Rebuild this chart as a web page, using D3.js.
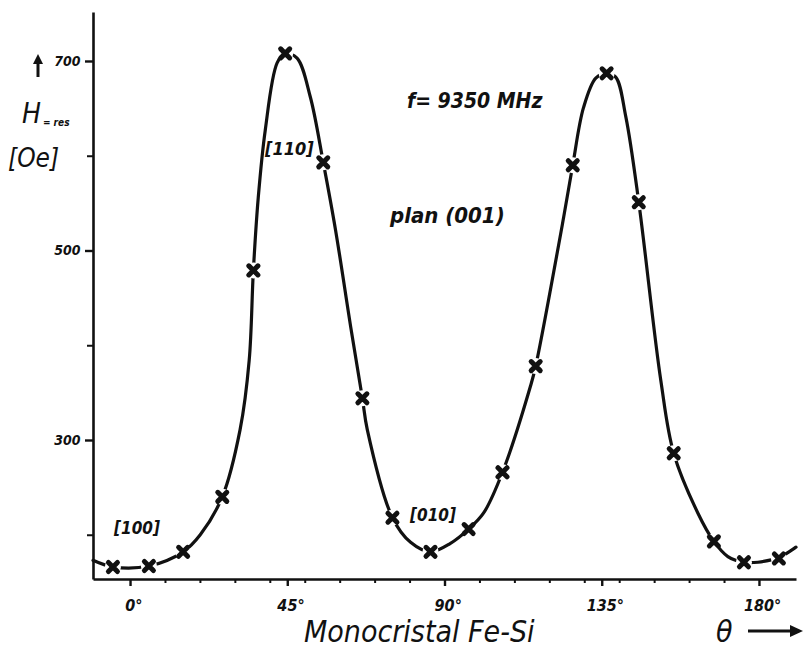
<!DOCTYPE html>
<html>
<head>
<meta charset="utf-8">
<script src="https://cdn.jsdelivr.net/npm/d3@7"></script>
<style>
  html, body { margin: 0; padding: 0; background: #fff; }
  svg { display: block; }
  text { font-family: "DejaVu Sans Condensed", "DejaVu Sans", sans-serif; fill: #111; }
</style>
</head>
<body>
<svg id="chart" width="803" height="652"></svg>
<script>
// ---- data ----
// measured points (θ in degrees, H_res in Oe)
const markerTheta = [-4.9, 5.4, 15.2, 26.4, 35.3, 44.4, 55.3, 66.5, 75.1, 86.0,
                     96.9, 106.6, 116.1, 126.7, 136.4, 145.6, 155.6, 167.1, 175.7, 185.7];
const markerH     = [166, 167, 182, 240, 479, 708, 593, 344, 218, 182,
                     206, 266, 378, 590, 687, 551, 286, 193, 171, 175];
// hand-drawn curve
const curveTheta = [-10.6, -4.9, 5.4, 15.2, 20.1, 26.4, 31.5, 34.1, 35.3, 36.7, 38.7, 42.1,
                    44.4, 47.8, 51.6, 55.3, 58.8, 63.3, 66.5, 67.9, 75.1, 80.3, 86.0, 91.7, 96.9,
                    101.2, 106.6, 114.7, 116.1, 124.1, 126.7, 129.8, 133.3, 136.4, 139.0,
                    141.9, 145.6, 151.9, 155.6, 162.5, 167.1, 171.1, 175.7,
                    179.7, 185.7, 190.6];
const curveH     = [173, 166, 167, 182, 200, 240, 311, 384, 479, 556, 627, 698,
                    708, 703, 662, 593, 522, 416, 344, 311, 218, 192, 182, 191, 206,
                    223, 266, 358, 378, 535, 590, 651, 682, 687, 683,
                    641, 551, 363, 286, 223, 193, 177, 171,
                    171, 176, 187];
const xMajorTicks = [0, 45, 90, 135, 180];
const xMinorTicks = [10, 20, 30, 40, 50, 60, 70, 80, 100, 110, 120, 130, 140, 150, 160, 170];
const yMajorTicks = [300, 500, 700];
const yMinorTicks = [200, 400, 600];
const labels = { title1: "f= 9350 MHz", title2: "plan (001)", xTitle: "Monocristal Fe-Si" };

// ---- drawing ----
const svg = d3.select("#chart");
svg.append("rect").attr("width", 803).attr("height", 652).attr("fill", "#fff");

const x = d3.scaleLinear().domain([-10.6, 190.6]).range([93, 796]);
const y = d3.scaleLinear().domain([153.3, 751.7]).range([579, 12]);

const ink = "#111";

// x axis
const gx = svg.append("g").attr("transform", `translate(0,${y(153.3)})`);
gx.call(d3.axisBottom(x).tickValues(xMajorTicks).tickSize(7).tickSizeOuter(0).tickFormat(d => d + "°"));
gx.select(".domain").attr("stroke", ink).attr("stroke-width", 2.6);
gx.selectAll(".tick line").attr("stroke", ink).attr("stroke-width", 2.4);
gx.selectAll(".tick text").attr("dy", "1.35em").attr("dx", "0.2em")
  .style("font-size", "16px").style("font-weight", "bold").style("font-style", "italic").attr("fill", ink);
const gxm = svg.append("g").attr("transform", `translate(0,${y(153.3)})`);
gxm.call(d3.axisBottom(x).tickValues(xMinorTicks).tickSize(4).tickSizeOuter(0).tickFormat(""));
gxm.select(".domain").remove();
gxm.selectAll(".tick line").attr("stroke", ink).attr("stroke-width", 2);

// y axis
const gy = svg.append("g").attr("transform", `translate(${x(-10.6)},0)`);
gy.call(d3.axisLeft(y).tickValues(yMajorTicks).tickSize(8).tickSizeOuter(0).tickFormat(d3.format("d")));
gy.select(".domain").attr("stroke", ink).attr("stroke-width", 2.6);
gy.selectAll(".tick line").attr("stroke", ink).attr("stroke-width", 2.4);
gy.selectAll(".tick text").attr("dx", "-0.1em")
  .style("font-size", "14px").style("font-weight", "bold").style("font-style", "italic").attr("fill", ink);
const gym = svg.append("g").attr("transform", `translate(${x(-10.6)},0)`);
gym.call(d3.axisLeft(y).tickValues(yMinorTicks).tickSize(6).tickSizeOuter(0).tickFormat(""));
gym.select(".domain").remove();
gym.selectAll(".tick line").attr("stroke", ink).attr("stroke-width", 2);

// curve
const curvePts = curveTheta.map((t, i) => [t, curveH[i]]);
const line = d3.line().x(d => x(d[0])).y(d => y(d[1])).curve(d3.curveCatmullRom.alpha(0.5));
svg.append("path").datum(curvePts).attr("d", line)
  .attr("fill", "none").attr("stroke", ink).attr("stroke-width", 3.2).attr("stroke-linecap", "round");

// markers with white gap around them
const pts = markerTheta.map((t, i) => [t, markerH[i]]);
svg.append("g").selectAll("circle").data(pts).join("circle")
  .attr("cx", d => x(d[0])).attr("cy", d => y(d[1])).attr("r", 8).attr("fill", "#fff");
svg.append("g").selectAll("path").data(pts).join("path")
  .attr("transform", d => `translate(${x(d[0])},${y(d[1])})`)
  .attr("d", d3.symbol().type(d3.symbolX).size(55)())
  .attr("fill", "none").attr("stroke", ink).attr("stroke-width", 5).attr("stroke-linecap", "round");

// annotations
function txt(s, px, py, size, opts = {}) {
  return svg.append("text").attr("x", px).attr("y", py).text(s)
    .style("font-size", size + "px")
    .style("font-style", "italic")
    .style("font-weight", opts.weight || "bold")
    .attr("text-anchor", opts.anchor || "start");
}
txt(labels.title1, 407, 108, 21);
txt(labels.title2, 390, 223, 22);
txt("[110]", 265, 155, 18);
txt("[100]", 114, 534, 17);
txt("[010]", 410, 521, 17);

// y title
const hT = svg.append("text").attr("x", 22).attr("y", 123)
  .style("font-size", "28px").style("font-style", "italic").style("font-weight", "normal");
hT.append("tspan").text("H");
hT.append("tspan").attr("dx", 2).attr("dy", 3).style("font-size", "10px").style("font-weight", "bold").text("= res");
txt("[Oe]", 8, 167, 26, { weight: "normal" });
// up arrow
svg.append("line").attr("x1", 38).attr("y1", 77).attr("x2", 38).attr("y2", 62)
  .attr("stroke", ink).attr("stroke-width", 3);
svg.append("path").attr("d", "M33,64 L38,54 L43,64 Z").attr("fill", ink);

// x title
txt(labels.xTitle, 304, 642, 30, { weight: "normal" });
txt("θ", 716, 642, 30, { weight: "normal" });
svg.append("line").attr("x1", 748).attr("y1", 631).attr("x2", 795).attr("y2", 631)
  .attr("stroke", ink).attr("stroke-width", 3);
svg.append("path").attr("d", "M790,625 L803,631 L790,637 Z").attr("fill", ink);
</script>
</body>
</html>
